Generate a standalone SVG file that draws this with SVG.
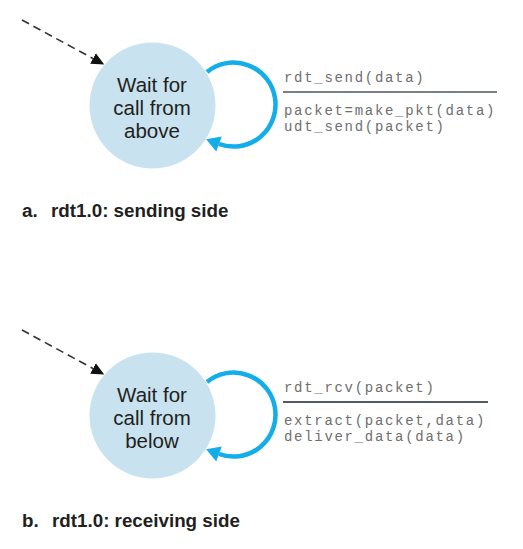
<svg xmlns="http://www.w3.org/2000/svg" width="523" height="549" viewBox="0 0 523 549">
<style>
.state{fill:#c9e2f0;}
.stxt{font-family:"Liberation Sans",Arial,sans-serif;font-size:20.5px;fill:#231f20;text-anchor:middle;}
.init{fill:none;stroke:#333;stroke-width:1.6;stroke-dasharray:8 5;}
.loop{fill:none;stroke:#13aee9;stroke-width:4.5;}
.lbl{font-family:"Liberation Mono","Courier New",monospace;font-size:14px;letter-spacing:1.7px;fill:#6e6e6e;}
.bar{stroke:#4a5366;stroke-width:1.6;}
.cap{font-family:"Liberation Sans",Arial,sans-serif;font-size:18.8px;font-weight:bold;fill:#231f20;}
</style>
<defs>
<marker id="ah" markerUnits="userSpaceOnUse" markerWidth="14" markerHeight="14" refX="0" refY="5" orient="auto" viewBox="0 0 12 10">
<path d="M0,0 L11,5 L0,10 z" fill="#111"/>
</marker>
<marker id="bh" markerUnits="userSpaceOnUse" markerWidth="16" markerHeight="16" refX="0" refY="7" orient="auto" viewBox="0 0 13 14">
<path d="M0,0 L12,7 L0,14 z" fill="#13aee9"/>
</marker>
</defs>
<g id="connectors">
<line class="init" x1="22" y1="20" x2="93" y2="58.5" marker-end="url(#ah)"/>
<path class="loop" d="M207 72 A42 42 0 1 1 219 144" marker-end="url(#bh)"/>
<text class="lbl" x="284" y="82">rdt_send(data)</text>
<line class="bar" x1="283" y1="92" x2="497" y2="92"/>
<text class="lbl" x="284" y="115">packet=make_pkt(data)</text>
<text class="lbl" x="284" y="131">udt_send(packet)</text>
<line class="init" x1="22" y1="330" x2="93" y2="368.5" marker-end="url(#ah)"/>
<path class="loop" d="M207 382 A42 42 0 1 1 219 454" marker-end="url(#bh)"/>
<text class="lbl" x="284" y="392">rdt_rcv(packet)</text>
<line class="bar" x1="283" y1="402" x2="488" y2="402" style="stroke:#1d2433"/>
<text class="lbl" x="284" y="425">extract(packet,data)</text>
<text class="lbl" x="284" y="441">deliver_data(data)</text>
</g>
<g id="send-wait">
<circle class="state" cx="152.5" cy="105.5" r="63"/>
<text class="stxt" x="152" y="92">Wait for</text>
<text class="stxt" x="152" y="115">call from</text>
<text class="stxt" x="152" y="138">above</text>
</g>
<g id="recv-wait">
<circle class="state" cx="152.5" cy="415.5" r="63"/>
<text class="stxt" x="152" y="402">Wait for</text>
<text class="stxt" x="152" y="425">call from</text>
<text class="stxt" x="152" y="448">below</text>
</g>
<g id="captions">
<text class="cap" x="22" y="217">a.</text>
<text class="cap" x="51" y="217">rdt1.0: sending side</text>
<text class="cap" x="22" y="527">b.</text>
<text class="cap" x="52" y="527">rdt1.0: receiving side</text>
</g>
</svg>
